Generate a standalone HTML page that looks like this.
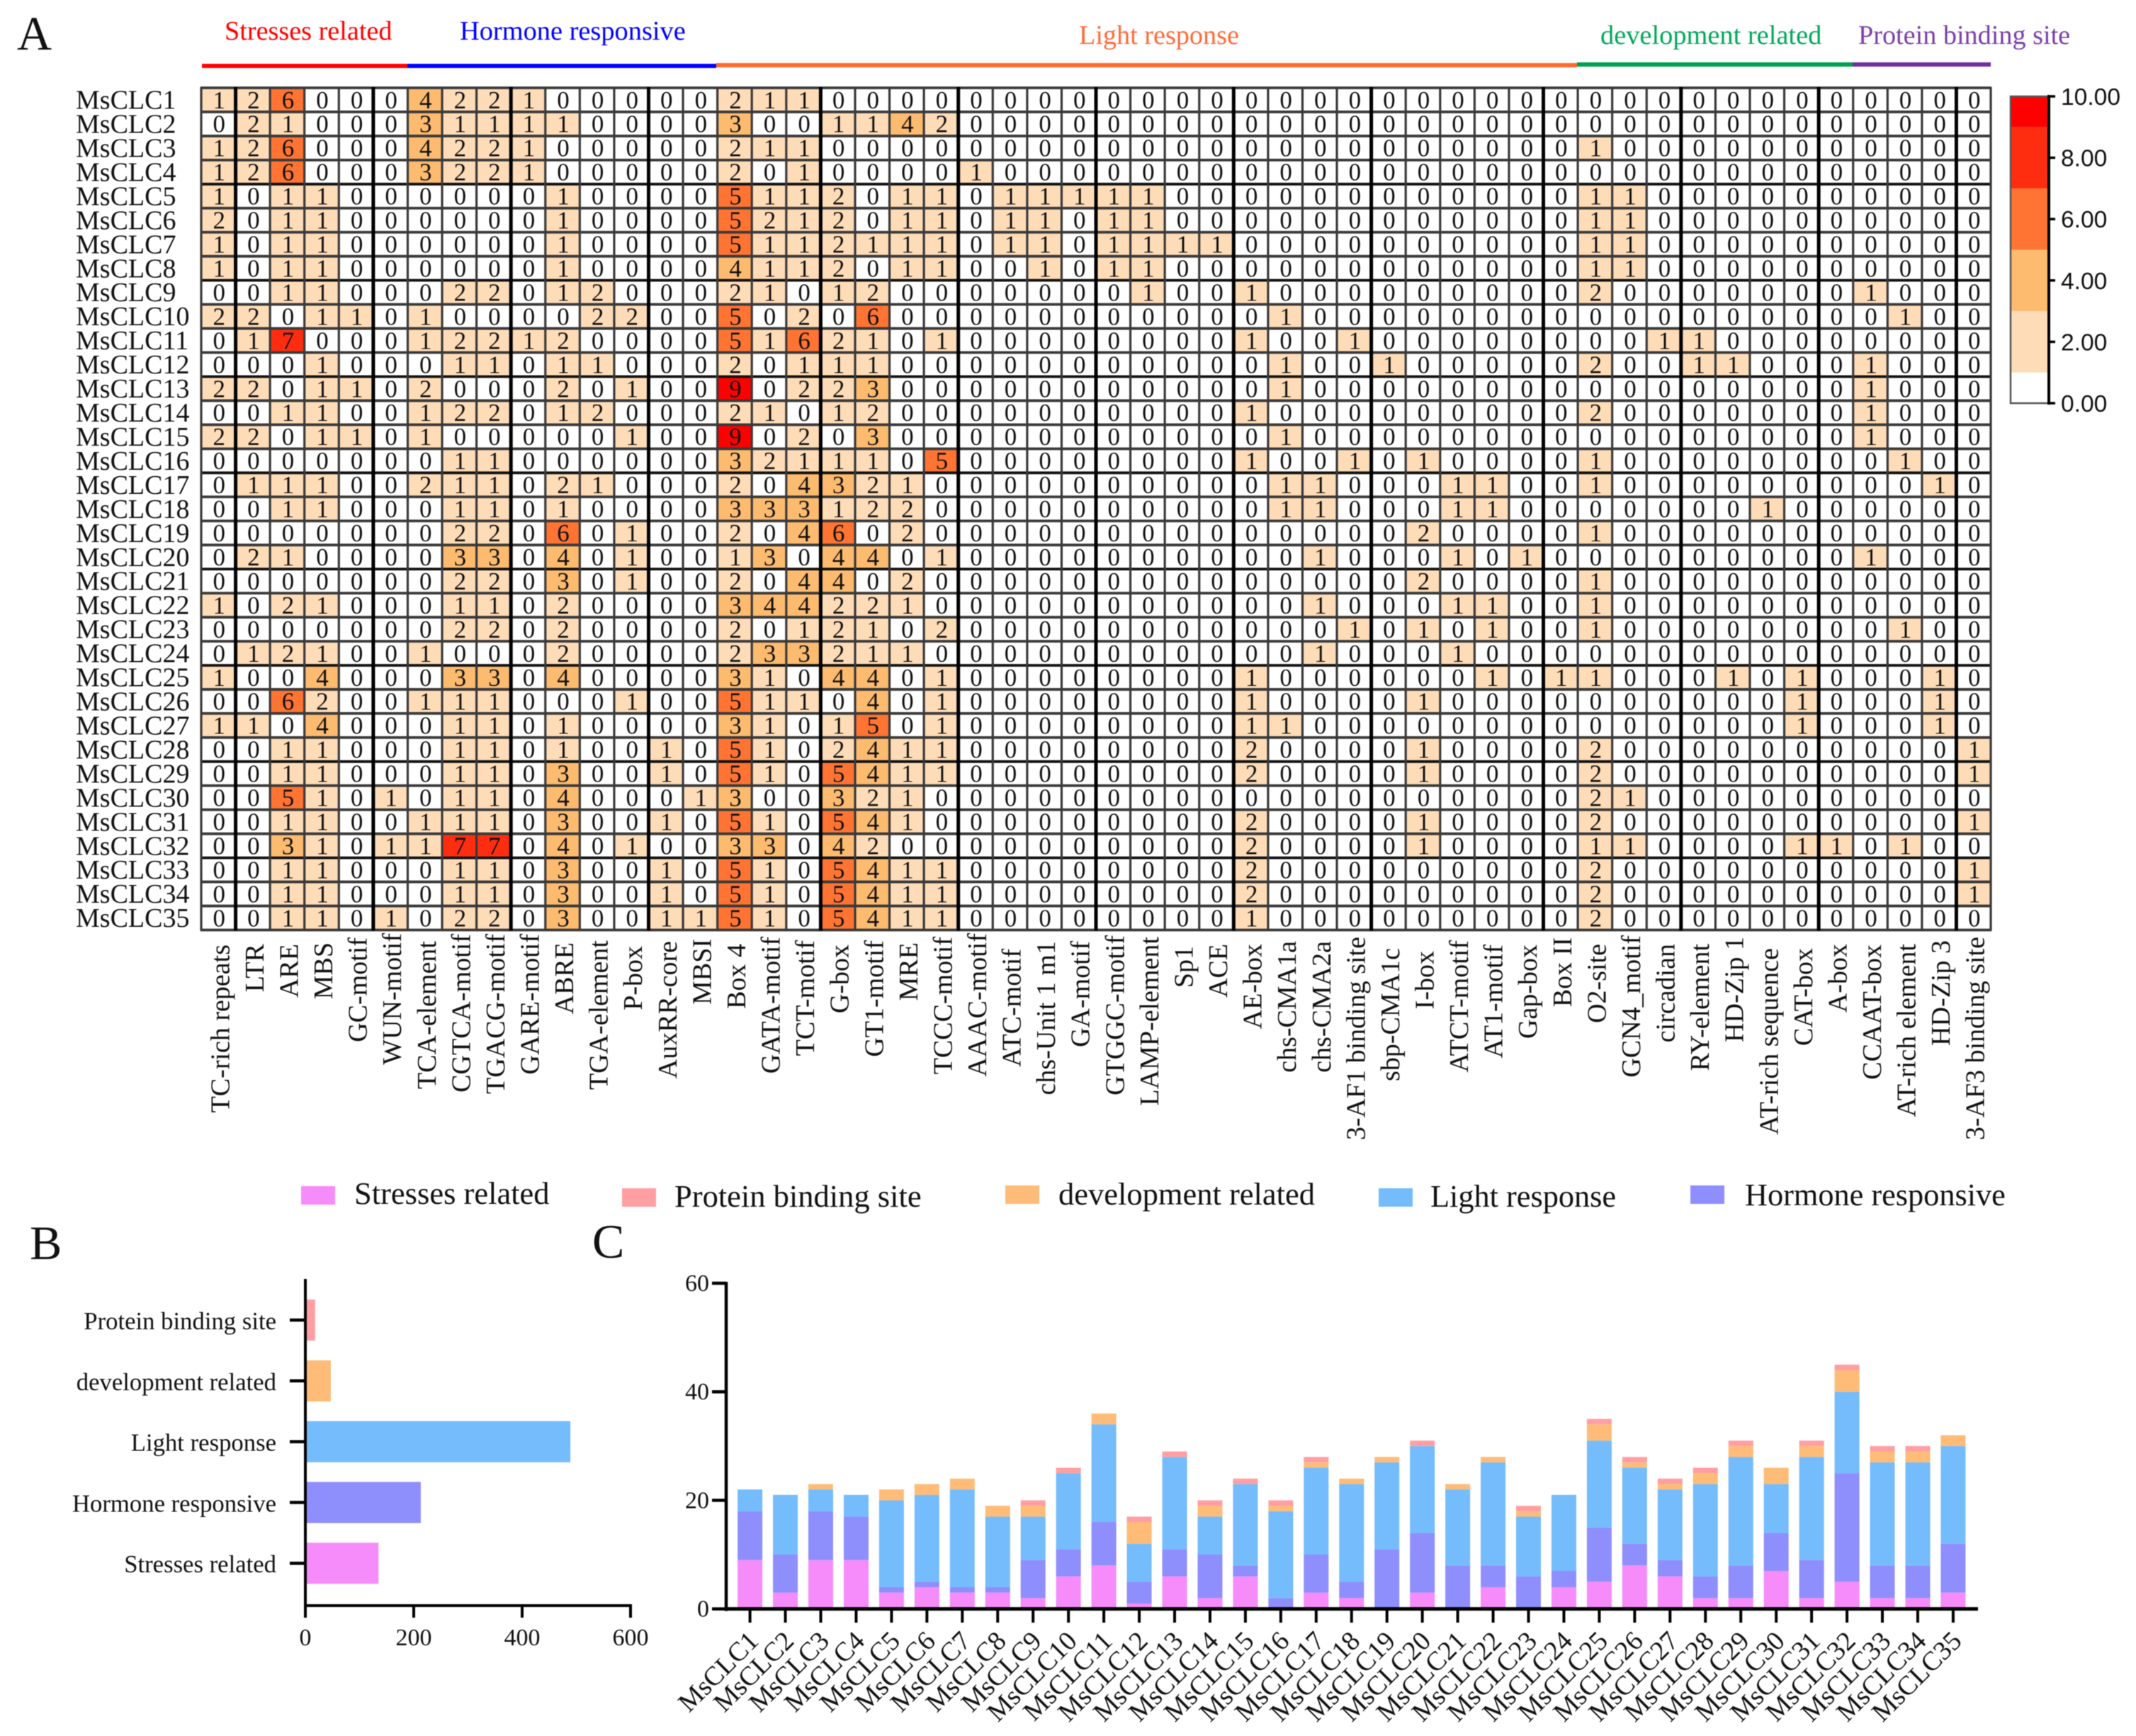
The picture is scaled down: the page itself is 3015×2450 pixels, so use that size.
<!DOCTYPE html>
<html lang="en">
<head>
<meta charset="utf-8">
<title>MsCLC cis-element analysis</title>
<style>
html,body{margin:0;padding:0;background:#fff;}
#figure{display:block;filter:blur(0.6px);}
text{font-family:"Liberation Serif","Times New Roman",serif;fill:#111;}
.sans{font-family:"Liberation Sans",Arial,sans-serif;}
</style>
</head>
<body>
<svg id="figure" xmlns="http://www.w3.org/2000/svg" width="3015" height="2450" viewBox="0 0 3015 2450">
  <rect x="0" y="0" width="3015" height="2450" fill="#fff"/>
  <text x="24" y="70" font-size="68">A</text>
  <text x="42" y="1777" font-size="68">B</text>
  <text x="836" y="1775" font-size="68">C</text>

  <text x="317" y="56" font-size="38.2" style="fill:#ff0000">Stresses related</text>
  <text x="649" y="56" font-size="38.4" style="fill:#0000ff">Hormone responsive</text>
  <text x="1523" y="62" font-size="38.2" style="fill:#ff6a3a">Light response</text>
  <text x="2259" y="62" font-size="38.4" style="fill:#00a85a">development related</text>
  <text x="2623" y="62" font-size="38.2" style="fill:#7a3fa8">Protein binding site</text>
  <rect x="285" y="90" width="290" height="6" fill="#ff0000"/>
  <rect x="575" y="90" width="436" height="6" fill="#0000ff"/>
  <rect x="1011" y="89" width="1215" height="6" fill="#ff6a2a"/>
  <rect x="2226" y="88" width="389" height="6" fill="#00a050"/>
  <rect x="2615" y="88" width="195" height="6" fill="#7030a0"/>

  <g id="heatmap"></g>
  <g id="colorbar"></g>

  <g>
    <g>
      <rect x="425" y="1674" width="48" height="26" fill="#f68cfa"/>
      <text x="500" y="1699" font-size="44.5">Stresses related</text>
    </g>
    <g>
      <rect x="878" y="1677" width="48" height="26" fill="#ff9fa3"/>
      <text x="952" y="1703" font-size="44.5">Protein binding site</text>
    </g>
    <g>
      <rect x="1419" y="1673" width="48" height="26" fill="#febc78"/>
      <text x="1494" y="1700" font-size="44.5">development related</text>
    </g>
    <g>
      <rect x="1946" y="1677" width="48" height="26" fill="#74bcfb"/>
      <text x="2019" y="1703" font-size="44.3">Light response</text>
    </g>
    <g>
      <rect x="2386" y="1673" width="48" height="26" fill="#8f8efd"/>
      <text x="2463" y="1701" font-size="44.3">Hormone responsive</text>
    </g>
  </g>

  <g id="panel-b"></g>
  <g id="panel-c"></g>
</svg>

<script>
const heatRowLabels = ["MsCLC1","MsCLC2","MsCLC3","MsCLC4","MsCLC5","MsCLC6","MsCLC7","MsCLC8","MsCLC9","MsCLC10","MsCLC11","MsCLC12","MsCLC13","MsCLC14","MsCLC15","MsCLC16","MsCLC17","MsCLC18","MsCLC19","MsCLC20","MsCLC21","MsCLC22","MsCLC23","MsCLC24","MsCLC25","MsCLC26","MsCLC27","MsCLC28","MsCLC29","MsCLC30","MsCLC31","MsCLC32","MsCLC33","MsCLC34","MsCLC35"];
const heatColLabels = ["TC-rich repeats","LTR","ARE","MBS","GC-motif","WUN-motif","TCA-element","CGTCA-motif","TGACG-motif","GARE-motif","ABRE","TGA-element","P-box","AuxRR-core","MBSI","Box 4","GATA-motif","TCT-motif","G-box","GT1-motif","MRE","TCCC-motif","AAAC-motif","ATC-motif","chs-Unit 1 m1","GA-motif","GTGGC-motif","LAMP-element","Sp1","ACE","AE-box","chs-CMA1a","chs-CMA2a","3-AF1 binding site","sbp-CMA1c","I-box","ATCT-motif","AT1-motif","Gap-box","Box II","O2-site","GCN4_motif","circadian","RY-element","HD-Zip 1","AT-rich sequence","CAT-box","A-box","CCAAT-box","AT-rich element","HD-Zip 3","3-AF3 binding site"];
const heatValues = [
[1,2,6,0,0,0,4,2,2,1,0,0,0,0,0,2,1,1,0,0,0,0,0,0,0,0,0,0,0,0,0,0,0,0,0,0,0,0,0,0,0,0,0,0,0,0,0,0,0,0,0,0],
[0,2,1,0,0,0,3,1,1,1,1,0,0,0,0,3,0,0,1,1,4,2,0,0,0,0,0,0,0,0,0,0,0,0,0,0,0,0,0,0,0,0,0,0,0,0,0,0,0,0,0,0],
[1,2,6,0,0,0,4,2,2,1,0,0,0,0,0,2,1,1,0,0,0,0,0,0,0,0,0,0,0,0,0,0,0,0,0,0,0,0,0,0,1,0,0,0,0,0,0,0,0,0,0,0],
[1,2,6,0,0,0,3,2,2,1,0,0,0,0,0,2,0,1,0,0,0,0,1,0,0,0,0,0,0,0,0,0,0,0,0,0,0,0,0,0,0,0,0,0,0,0,0,0,0,0,0,0],
[1,0,1,1,0,0,0,0,0,0,1,0,0,0,0,5,1,1,2,0,1,1,0,1,1,1,1,1,0,0,0,0,0,0,0,0,0,0,0,0,1,1,0,0,0,0,0,0,0,0,0,0],
[2,0,1,1,0,0,0,0,0,0,1,0,0,0,0,5,2,1,2,0,1,1,0,1,1,0,1,1,0,0,0,0,0,0,0,0,0,0,0,0,1,1,0,0,0,0,0,0,0,0,0,0],
[1,0,1,1,0,0,0,0,0,0,1,0,0,0,0,5,1,1,2,1,1,1,0,1,1,0,1,1,1,1,0,0,0,0,0,0,0,0,0,0,1,1,0,0,0,0,0,0,0,0,0,0],
[1,0,1,1,0,0,0,0,0,0,1,0,0,0,0,4,1,1,2,0,1,1,0,0,1,0,1,1,0,0,0,0,0,0,0,0,0,0,0,0,1,1,0,0,0,0,0,0,0,0,0,0],
[0,0,1,1,0,0,0,2,2,0,1,2,0,0,0,2,1,0,1,2,0,0,0,0,0,0,0,1,0,0,1,0,0,0,0,0,0,0,0,0,2,0,0,0,0,0,0,0,1,0,0,0],
[2,2,0,1,1,0,1,0,0,0,0,2,2,0,0,5,0,2,0,6,0,0,0,0,0,0,0,0,0,0,0,1,0,0,0,0,0,0,0,0,0,0,0,0,0,0,0,0,0,1,0,0],
[0,1,7,0,0,0,1,2,2,1,2,0,0,0,0,5,1,6,2,1,0,1,0,0,0,0,0,0,0,0,1,0,0,1,0,0,0,0,0,0,0,0,1,1,0,0,0,0,0,0,0,0],
[0,0,0,1,0,0,0,1,1,0,1,1,0,0,0,2,0,1,1,1,0,0,0,0,0,0,0,0,0,0,0,1,0,0,1,0,0,0,0,0,2,0,0,1,1,0,0,0,1,0,0,0],
[2,2,0,1,1,0,2,0,0,0,2,0,1,0,0,9,0,2,2,3,0,0,0,0,0,0,0,0,0,0,0,1,0,0,0,0,0,0,0,0,0,0,0,0,0,0,0,0,1,0,0,0],
[0,0,1,1,0,0,1,2,2,0,1,2,0,0,0,2,1,0,1,2,0,0,0,0,0,0,0,0,0,0,1,0,0,0,0,0,0,0,0,0,2,0,0,0,0,0,0,0,1,0,0,0],
[2,2,0,1,1,0,1,0,0,0,0,0,1,0,0,9,0,2,0,3,0,0,0,0,0,0,0,0,0,0,0,1,0,0,0,0,0,0,0,0,0,0,0,0,0,0,0,0,1,0,0,0],
[0,0,0,0,0,0,0,1,1,0,0,0,0,0,0,3,2,1,1,1,0,5,0,0,0,0,0,0,0,0,1,0,0,1,0,1,0,0,0,0,1,0,0,0,0,0,0,0,0,1,0,0],
[0,1,1,1,0,0,2,1,1,0,2,1,0,0,0,2,0,4,3,2,1,0,0,0,0,0,0,0,0,0,0,1,1,0,0,0,1,1,0,0,1,0,0,0,0,0,0,0,0,0,1,0],
[0,0,1,1,0,0,0,1,1,0,1,0,0,0,0,3,3,3,1,2,2,0,0,0,0,0,0,0,0,0,0,1,1,0,0,0,1,1,0,0,0,0,0,0,0,1,0,0,0,0,0,0],
[0,0,0,0,0,0,0,2,2,0,6,0,1,0,0,2,0,4,6,0,2,0,0,0,0,0,0,0,0,0,0,0,0,0,0,2,0,0,0,0,1,0,0,0,0,0,0,0,0,0,0,0],
[0,2,1,0,0,0,0,3,3,0,4,0,1,0,0,1,3,0,4,4,0,1,0,0,0,0,0,0,0,0,0,0,1,0,0,0,1,0,1,0,0,0,0,0,0,0,0,0,1,0,0,0],
[0,0,0,0,0,0,0,2,2,0,3,0,1,0,0,2,0,4,4,0,2,0,0,0,0,0,0,0,0,0,0,0,0,0,0,2,0,0,0,0,1,0,0,0,0,0,0,0,0,0,0,0],
[1,0,2,1,0,0,0,1,1,0,2,0,0,0,0,3,4,4,2,2,1,0,0,0,0,0,0,0,0,0,0,0,1,0,0,0,1,1,0,0,1,0,0,0,0,0,0,0,0,0,0,0],
[0,0,0,0,0,0,0,2,2,0,2,0,0,0,0,2,0,1,2,1,0,2,0,0,0,0,0,0,0,0,0,0,0,1,0,1,0,1,0,0,1,0,0,0,0,0,0,0,0,1,0,0],
[0,1,2,1,0,0,1,0,0,0,2,0,0,0,0,2,3,3,2,1,1,0,0,0,0,0,0,0,0,0,0,0,1,0,0,0,1,0,0,0,0,0,0,0,0,0,0,0,0,0,0,0],
[1,0,0,4,0,0,0,3,3,0,4,0,0,0,0,3,1,0,4,4,0,1,0,0,0,0,0,0,0,0,1,0,0,0,0,0,0,1,0,1,1,0,0,0,1,0,1,0,0,0,1,0],
[0,0,6,2,0,0,1,1,1,0,0,0,1,0,0,5,1,1,0,4,0,1,0,0,0,0,0,0,0,0,1,0,0,0,0,1,0,0,0,0,0,0,0,0,0,0,1,0,0,0,1,0],
[1,1,0,4,0,0,0,1,1,0,1,0,0,0,0,3,1,0,1,5,0,1,0,0,0,0,0,0,0,0,1,1,0,0,0,0,0,0,0,0,0,0,0,0,0,0,1,0,0,0,1,0],
[0,0,1,1,0,0,0,1,1,0,1,0,0,1,0,5,1,0,2,4,1,1,0,0,0,0,0,0,0,0,2,0,0,0,0,1,0,0,0,0,2,0,0,0,0,0,0,0,0,0,0,1],
[0,0,1,1,0,0,0,1,1,0,3,0,0,1,0,5,1,0,5,4,1,1,0,0,0,0,0,0,0,0,2,0,0,0,0,1,0,0,0,0,2,0,0,0,0,0,0,0,0,0,0,1],
[0,0,5,1,0,1,0,1,1,0,4,0,0,0,1,3,0,0,3,2,1,0,0,0,0,0,0,0,0,0,0,0,0,0,0,0,0,0,0,0,2,1,0,0,0,0,0,0,0,0,0,0],
[0,0,1,1,0,0,1,1,1,0,3,0,0,1,0,5,1,0,5,4,1,0,0,0,0,0,0,0,0,0,2,0,0,0,0,1,0,0,0,0,2,0,0,0,0,0,0,0,0,0,0,1],
[0,0,3,1,0,1,1,7,7,0,4,0,1,0,0,3,3,0,4,2,0,0,0,0,0,0,0,0,0,0,2,0,0,0,0,1,0,0,0,0,1,1,0,0,0,0,1,1,0,1,0,0],
[0,0,1,1,0,0,0,1,1,0,3,0,0,1,0,5,1,0,5,4,1,1,0,0,0,0,0,0,0,0,2,0,0,0,0,0,0,0,0,0,2,0,0,0,0,0,0,0,0,0,0,1],
[0,0,1,1,0,0,0,1,1,0,3,0,0,1,0,5,1,0,5,4,1,1,0,0,0,0,0,0,0,0,2,0,0,0,0,0,0,0,0,0,2,0,0,0,0,0,0,0,0,0,0,1],
[0,0,1,1,0,1,0,2,2,0,3,0,0,1,1,5,1,0,5,4,1,1,0,0,0,0,0,0,0,0,1,0,0,0,0,0,0,0,0,0,2,0,0,0,0,0,0,0,0,0,0,0]
];
const colorStops = [0,1,3,5,7,9,10];
const colorRamp = ["#ffffff","#fedcb8","#fdbb70","#ff7433","#ff2d10","#ff0000"];
const colorbarTicks = [0,2,4,6,8,10];

const totalCategories = ["Protein binding site","development related","Light response","Hormone responsive","Stresses related"];
const totalValues = [18,47,489,213,135];
const totalTicks = [0,200,400,600];

const stackCategories = heatRowLabels;
const stressValues = [9,3,9,9,3,4,3,3,2,6,8,1,6,2,6,0,3,2,0,3,0,4,0,4,5,8,6,2,2,7,2,5,2,2,3];
const hormoneValues = [9,7,9,8,1,1,1,1,7,5,8,4,5,8,2,2,7,3,11,11,8,4,6,3,10,4,3,4,6,7,7,20,6,6,9];
const lightValues = [4,11,4,4,16,16,18,13,8,14,18,7,17,7,15,16,16,18,16,16,14,19,11,14,16,14,13,17,20,9,19,15,19,19,18];
const developmentValues = [0,0,1,0,2,2,2,2,2,0,2,4,0,2,0,1,1,1,1,0,1,1,1,0,3,1,1,2,2,3,2,4,2,2,2];
const proteinValues = [0,0,0,0,0,0,0,0,1,1,0,1,1,1,1,1,1,0,0,1,0,0,1,0,1,1,1,1,1,0,1,1,1,1,0];
const stackTicks = [0,20,40,60];

const SVGNS = "http://www.w3.org/2000/svg";
function mk(parent, tag, attrs){
  const el = document.createElementNS(SVGNS, tag);
  for (const k in attrs) el.setAttribute(k, attrs[k]);
  parent.appendChild(el);
  return el;
}
function txt(parent, str, x, y, size, anchor, rotate){
  const attrs = {x:x, y:y, 'font-size':size, 'text-anchor':anchor || 'start'};
  if (rotate) attrs.transform = 'rotate(' + rotate + ' ' + x + ' ' + y + ')';
  const el = mk(parent, 'text', attrs);
  el.textContent = str;
  return el;
}

/* ---------- Panel A heatmap ---------- */
const HX0 = 284, HX1 = 2810, HY0 = 124, HY1 = 1312.5;
const cellW = (HX1 - HX0) / heatColLabels.length;
const cellH = (HY1 - HY0) / heatRowLabels.length;
const xHeat = c => HX0 + c * cellW;
const yHeat = r => HY0 + r * cellH;
/* layout only: grid columns drawn heavier, and where each rotated column label ends */
const gridBoldCols = [1,5,9,13,18,22,26,30,34,39,43,47,51];
const colLabelEnd = [1333,1332,1332,1330,1323,1317,1328,1318,1318,1318,1330,1327,1335,1328,1325,1332,1322,1327,1333,1327,1330,1322,1317,1339,1328,1328,1320,1322,1335,1332,1332,1328,1328,1322,1338,1342,1327,1333,1333,1323,1332,1320,1332,1332,1322,1338,1338,1332,1333,1332,1327,1322];
function heatColor(v){
  for (let i = colorRamp.length - 1; i >= 0; i--) {
    if (v >= colorStops[i]) return colorRamp[i];
  }
  return colorRamp[0];
}
const heat = document.getElementById('heatmap');
heatValues.forEach((row, r) => {
  row.forEach((v, c) => {
    const cell = mk(heat, 'rect', {x:xHeat(c), y:yHeat(r), width:cellW, height:cellH, fill:heatColor(v)});
    
    
  });
});
for (let r = 0; r <= heatRowLabels.length; r++) {
  const line = mk(heat, 'line', {x1:HX0-1, x2:HX1+1, y1:yHeat(r), y2:yHeat(r), stroke:(r % 4 === 0 && r > 0) ? '#111' : '#3a3a3a', 'stroke-width':3.8});
  
  
}
for (let c = 0; c <= heatColLabels.length; c++) {
  const bold = gridBoldCols.includes(c);
  const line = mk(heat, 'line', {x1:xHeat(c), x2:xHeat(c), y1:HY0-1, y2:HY1+1, stroke:bold ? '#000' : '#3a3a3a', 'stroke-width':bold ? 5 : 3.2});
  
  
}
heatValues.forEach((row, r) => {
  row.forEach((v, c) => {
    const t = txt(heat, String(v), xHeat(c) + cellW/2 + 1, yHeat(r) + cellH/2 + 11.8, 35, 'middle');
    
    
  });
});
heatRowLabels.forEach((name, r) => {
  const t = txt(heat, name, 107, yHeat(r) + cellH/2 + 12.6, 38, 'start');
  
  
});
heatColLabels.forEach((name, c) => {
  const px = xHeat(c) + cellW/2 + 15;
  const t = txt(heat, name, px, colLabelEnd[c], 38, 'end', -90);
  
  
});

/* ---------- Colorbar ---------- */
const CBX0 = 2838, CBX1 = 2892, CBY0 = 569, CBY1 = 136;
const yCB = v => CBY0 + (CBY1 - CBY0) * v / colorStops[colorStops.length - 1];
const cb = document.getElementById('colorbar');
colorRamp.forEach((col, i) => {
  const seg = mk(cb, 'rect', {x:CBX0, y:yCB(colorStops[i+1]), width:CBX1-CBX0, height:yCB(colorStops[i]) - yCB(colorStops[i+1]), fill:col});
  
  
});
const cbFrame = mk(cb, 'path', {d:'M'+CBX1+' '+CBY1+' H'+CBX0+' V'+CBY0+' H'+CBX1, fill:'none', stroke:'#555', 'stroke-width':2.5});


const cbAxis = mk(cb, 'line', {x1:CBX1, x2:CBX1, y1:CBY1-2, y2:CBY0+2, stroke:'#000', 'stroke-width':4});


colorbarTicks.forEach(v => {
  const tick = mk(cb, 'line', {x1:CBX1, x2:CBX1+9, y1:yCB(v), y2:yCB(v), stroke:'#000', 'stroke-width':3.5});
  
  
  const t = txt(cb, v.toFixed(2), 2909, yCB(v) + 12, 33.6, 'start');
  t.setAttribute('class', 'sans');
  
  
});

/* ---------- Panel B ---------- */
const BX0 = 431, BX600 = 890, BYAXIS = 2266;
const totalColors = ["#ff9fa3","#febc78","#74bcfb","#8f8efd","#f68cfa"];
const xB = v => BX0 + (BX600 - BX0) * v / totalTicks[totalTicks.length - 1];
const yB = i => 1863 + i * 85.8;
const pb = document.getElementById('panel-b');
totalCategories.forEach((name, i) => {
  const bar = mk(pb, 'rect', {x:BX0, y:yB(i) - 29, width:xB(totalValues[i]) - BX0, height:58, fill:totalColors[i]});
  
  
  const tick = mk(pb, 'line', {x1:409, x2:BX0, y1:yB(i), y2:yB(i), stroke:'#000', 'stroke-width':4.5});
  
  
  const t = txt(pb, name, 390, yB(i) + 13, 34.7, 'end');
  
  
});
const bY = mk(pb, 'line', {x1:BX0, x2:BX0, y1:1805, y2:BYAXIS+2, stroke:'#000', 'stroke-width':4});


const bX = mk(pb, 'line', {x1:BX0-2, x2:BX600+2, y1:BYAXIS, y2:BYAXIS, stroke:'#000', 'stroke-width':4});


totalTicks.forEach(v => {
  const tick = mk(pb, 'line', {x1:xB(v), x2:xB(v), y1:BYAXIS, y2:2283, stroke:'#000', 'stroke-width':4});
  
  
  const t = txt(pb, String(v), xB(v), 2322, 34, 'middle');
  
  
});

/* ---------- Panel C ---------- */
const CX0 = 1025, CY0 = 2270.6, CYTOP = 1811;
const yC = v => CY0 + (CYTOP - CY0) * v / stackTicks[stackTicks.length - 1];
const xC = i => 1058.6 + i * 49.95;
const stackSeries = [stressValues, hormoneValues, lightValues, developmentValues, proteinValues];
const stackColors = ["#f68cfa","#8f8efd","#74bcfb","#febc78","#ff9fa3"];
const pc = document.getElementById('panel-c');
stackCategories.forEach((name, i) => {
  let base = 0;
  stackSeries.forEach((series, s) => {
    const v = series[i];
    if (v > 0) {
      const seg = mk(pc, 'rect', {x:xC(i) - 17.5, y:yC(base + v), width:35, height:yC(base) - yC(base + v), fill:stackColors[s]});
      
      
    }
    base += v;
  });
  const tick = mk(pc, 'line', {x1:xC(i), x2:xC(i), y1:CY0, y2:2290, stroke:'#000', 'stroke-width':4});
  
  
  const t = txt(pc, name, xC(i) + 14, 2318, 38, 'end', -45);
  
  
});
const cY = mk(pc, 'line', {x1:CX0, x2:CX0, y1:CYTOP-2, y2:CY0+3, stroke:'#000', 'stroke-width':4.5});


const cX = mk(pc, 'line', {x1:CX0-2, x2:2792, y1:CY0, y2:CY0, stroke:'#000', 'stroke-width':5});


stackTicks.forEach(v => {
  const tick = mk(pc, 'line', {x1:1005, x2:CX0, y1:yC(v), y2:yC(v), stroke:'#000', 'stroke-width':4.5});
  
  
  const t = txt(pc, String(v), 1001, yC(v) + 11, 34, 'end');
  
  
});
</script>
</body>
</html>
